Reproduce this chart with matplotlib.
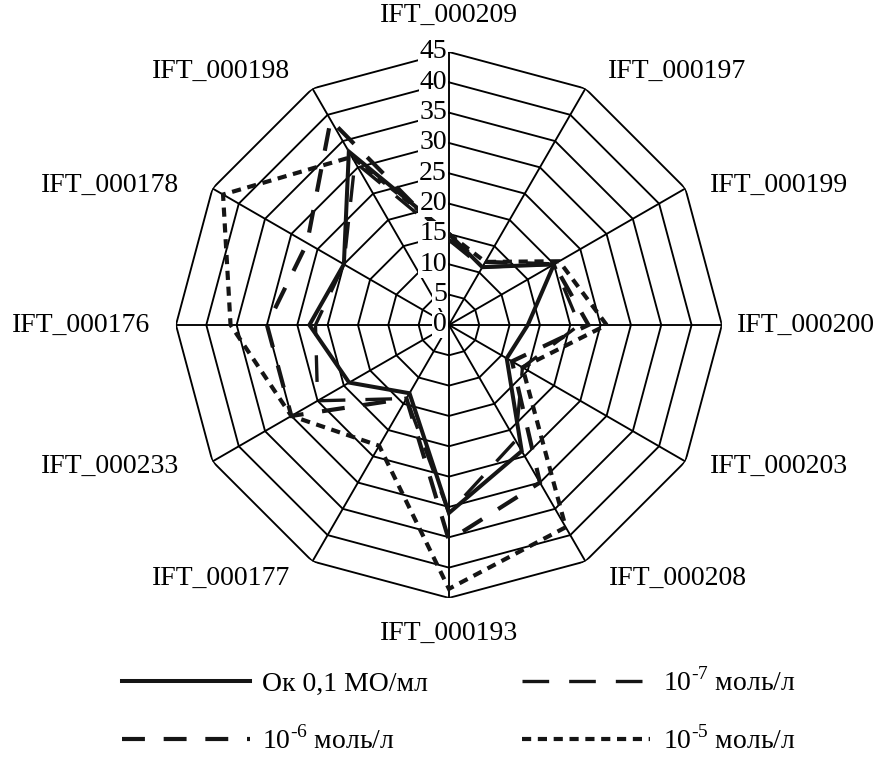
import numpy as np
import matplotlib
matplotlib.use('Agg')
import matplotlib.pyplot as plt

plt.rcParams['font.family'] = ['Liberation Serif', 'DejaVu Serif']
plt.rcParams['mathtext.fontset'] = 'custom'
plt.rcParams['mathtext.rm'] = 'Liberation Serif'

strains = ['IFT_000209', 'IFT_000197', 'IFT_000199', 'IFT_000200',
           'IFT_000203', 'IFT_000208', 'IFT_000193', 'IFT_000177',
           'IFT_000233', 'IFT_000176', 'IFT_000178', 'IFT_000198']

ok_01 = [15, 11, 20, 13, 11, 24, 31, 13, 19, 23, 20, 33]
c_1e7 = [14, 11, 20, 21.5, 14, 22, 31, 14, 25, 22, 20, 31]
c_1e6 = [14, 12, 20, 23, 12, 30, 35.5, 14, 30, 30, 27, 39]
c_1e5 = [15, 12, 21, 26, 14, 38.5, 43.5, 23, 30, 36, 43, 32]

r_ticks = [0, 5, 10, 15, 20, 25, 30, 35, 40, 45]

labels = ['Ок 0,1 МО/мл', '10$^{\u20107}$ моль/л',
          '10$^{\u20106}$ моль/л', '10$^{\u20105}$ моль/л']

n = len(strains)
theta = np.arange(n) * 2 * np.pi / n
theta_c = np.append(theta, theta[0])

fig = plt.figure(figsize=(8.82, 7.62), dpi=100)
ax = fig.add_axes([0.1995, 0.2153, 0.619, 0.7165], projection='polar')
ax.set_theta_zero_location('N')
ax.set_theta_direction(-1)
ax.set_ylim(0, 45)
ax.grid(False)
ax.spines['polar'].set_visible(False)
ax.set_xticks([])
ax.set_yticks([])

# polygon grid and spokes
for r in r_ticks[1:]:
    ax.plot(theta_c, [r] * (n + 1), color='k', lw=1.35, zorder=1)
for t in theta:
    ax.plot([t, t], [0, 45], color='k', lw=1.35, zorder=1)

styles = [
    dict(ls='-', lw=2.9),
    dict(ls=(0, (8, 6)), lw=2.4),
    dict(ls=(0, (5.5, 4.5)), lw=3.0),
    dict(ls=(0, (2.2, 1.6)), lw=3.0),
]
series = [ok_01, c_1e7, c_1e6, c_1e5]
handles = []
for vals, st, lab in zip(series, styles, labels):
    v = np.append(vals, vals[0])
    h, = ax.plot(theta_c, v, color='#151515', label=lab, zorder=3,
                 solid_joinstyle='miter', dash_joinstyle='miter', **st)
    handles.append(h)

# radial tick labels on the top spoke, boxed in white
for r in r_ticks:
    ax.annotate(str(r), xy=(0, r), xytext=(-2, 0), textcoords='offset pixels',
                ha='right', va='center', fontsize=20, zorder=5,
                bbox=dict(facecolor='white', edgecolor='none', pad=0.5))

# category labels
offsets = [(0, 37, 'center'), (23, 17, 'left'), (25, 3, 'left'),
           (15, 0, 'left'), (25, -5, 'left'), (24, -17, 'left'),
           (0, -35, 'center'), (-22, -17, 'right'), (-33, -5, 'right'),
           (-26, 0, 'right'), (-33, 3, 'right'), (-22, 17, 'right')]
for t, name, (dx, dy, ha) in zip(theta, strains, offsets):
    ax.annotate(name, xy=(t, 45), xytext=(dx, dy), textcoords='offset pixels',
                ha=ha, va='center', fontsize=20, annotation_clip=False)

order = [0, 2, 1, 3]
fig.legend([handles[i] for i in order], [labels[i] for i in order],
           loc='lower center', bbox_to_anchor=(0.52, -0.023), ncol=2,
           frameon=False, fontsize=20, handlelength=4.6,
           columnspacing=3.4, labelspacing=1.05, handletextpad=0.45)

fig.savefig('out.png', dpi=100)
